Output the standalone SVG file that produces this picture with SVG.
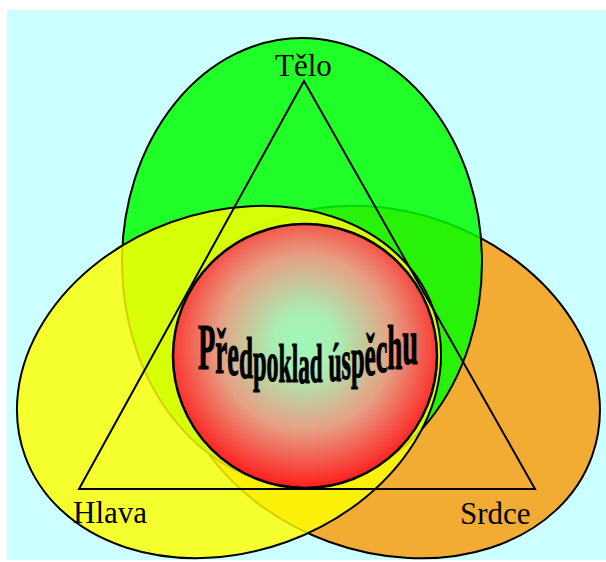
<svg xmlns="http://www.w3.org/2000/svg" width="606" height="562" viewBox="0 0 606 562">
<defs>
<style>
.ell{stroke:#000;stroke-width:2}
.lbl{font-family:"Liberation Serif","Times New Roman",serif;font-size:31px;fill:#000}
.title{font-family:"Liberation Serif","Times New Roman",serif;font-weight:bold;fill:#000;stroke:#000;stroke-width:1.2}
</style>
<radialGradient id="core" cx="0.5" cy="0.45" r="0.55">
<stop offset="0" stop-color="#9ff8b8"/>
<stop offset="0.22" stop-color="#a9eeb2"/>
<stop offset="0.6" stop-color="#e6a084"/>
<stop offset="1" stop-color="#ff1e1e"/>
</radialGradient>
</defs>
<rect x="0" y="0" width="606" height="562" fill="#ffffff"/>
<rect x="7" y="10" width="599" height="550" fill="#ccffff"/>
<g id="srdce-area">
<ellipse class="ell" cx="387" cy="382" rx="218" ry="170" transform="rotate(20 387 382)" fill="#f2ac34"/>
</g>
<g id="telo-area">
<ellipse class="ell" cx="302" cy="262" rx="180" ry="224" fill="#00ff00" fill-opacity="0.84"/>
</g>
<g id="hlava-area">
<ellipse class="ell" cx="229" cy="382" rx="217" ry="170" transform="rotate(-20 229 382)" fill="#ffff00" fill-opacity="0.82"/>
</g>
<g id="connectors">
<path d="M304,81 L79,489 L535,489 Z" fill="none" stroke="#000" stroke-width="2"/>
</g>
<g id="core">
<circle cx="305" cy="356" r="132" fill="url(#core)" stroke="#000" stroke-width="2.5"/>
<text class="title" transform="translate(198,0) scale(0.429,1)" x="0"><tspan y="369" font-size="66">P</tspan><tspan y="373" font-size="63">ř</tspan><tspan y="375" font-size="61">e</tspan><tspan y="377.6" font-size="59">d</tspan><tspan y="379.8" font-size="57">p</tspan><tspan y="381.2" font-size="56">o</tspan><tspan y="382.1" font-size="55">k</tspan><tspan y="382.5" font-size="54">l</tspan><tspan y="382.6" font-size="54">a</tspan><tspan y="382.2" font-size="54">d</tspan><tspan y="381.6" font-size="54"> </tspan><tspan y="380.6" font-size="55">ú</tspan><tspan y="379.1" font-size="56">s</tspan><tspan y="377.2" font-size="57">p</tspan><tspan y="374.7" font-size="59">ě</tspan><tspan y="372.1" font-size="61">c</tspan><tspan y="368.7" font-size="63">h</tspan><tspan y="364.4" font-size="66">u</tspan></text>
</g>
<g id="telo"><text class="lbl" x="275" y="76">Tělo</text></g>
<g id="hlava"><text class="lbl" x="73" y="523">Hlava</text></g>
<g id="srdce"><text class="lbl" x="460" y="524">Srdce</text></g>
</svg>
